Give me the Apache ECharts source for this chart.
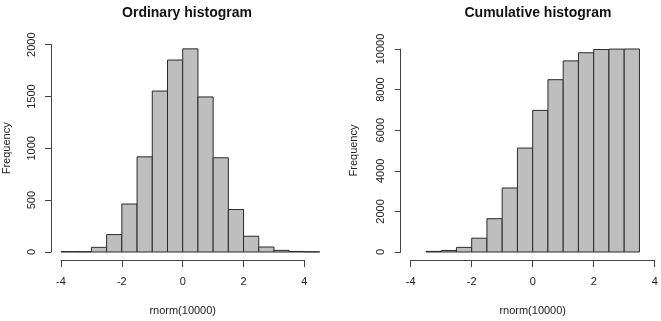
<!DOCTYPE html>
<html>
<head>
<meta charset="utf-8">
<script src="https://cdn.jsdelivr.net/npm/echarts@6/dist/echarts.min.js"></script>
<style>
html,body{margin:0;padding:0;background:#fff;}
#chart{width:661px;height:321px;}
</style>
</head>
<body>
<div id="chart"></div>
<script>
// ---- data ----
var binWidth = 0.5;
var ordinaryBinStarts = [-4, -3.5, -3, -2.5, -2, -1.5, -1, -0.5, 0, 0.5, 1, 1.5, 2, 2.5, 3, 3.5, 4];
var ordinaryCounts = [4, 3, 45, 168, 463, 918, 1553, 1852, 1960, 1496, 909, 410, 152, 48, 16, 5, 2];
var cumulativeBinStarts = [-3.5, -3, -2.5, -2, -1.5, -1, -0.5, 0, 0.5, 1, 1.5, 2, 2.5, 3];
var cumulativeCounts = [30, 75, 228, 680, 1640, 3154, 5120, 6975, 8488, 9415, 9815, 9975, 9995, 10000];
var titles = ['Ordinary histogram', 'Cumulative histogram'];
var xName = 'rnorm(10000)';
var yName = 'Frequency';

function toRows(starts, counts) {
  return starts.map(function (s, i) { return [s, s + binWidth, counts[i]]; });
}

var textColor = '#222';
var lineColor = '#444';
var font = 'Liberation Sans, Arial, Helvetica, sans-serif';

function renderBar(params, api) {
  var p0 = api.coord([api.value(0), api.value(2)]);
  var p1 = api.coord([api.value(1), 0]);
  return {
    type: 'rect',
    shape: { x: p0[0], y: p0[1], width: p1[0] - p0[0], height: p1[1] - p0[1] },
    style: { fill: '#bebebe', stroke: '#2a2a2a', lineWidth: 1 }
  };
}

function plain(v) { return String(v); }

function xAxisCfg(gridIndex) {
  return {
    gridIndex: gridIndex, type: 'value', min: -4, max: 4, interval: 2,
    offset: 8, splitLine: { show: false },
    axisLine: { show: true, onZero: false, lineStyle: { color: lineColor, width: 1 } },
    axisTick: { show: true, length: 7, lineStyle: { color: lineColor } },
    axisLabel: { color: textColor, fontSize: 11, fontFamily: font, margin: 16, formatter: plain },
    name: xName, nameLocation: 'middle', nameGap: 45,
    nameTextStyle: { color: textColor, fontSize: 11, fontFamily: font }
  };
}
function yAxisCfg(gridIndex, max, interval, gap) {
  return {
    gridIndex: gridIndex, type: 'value', min: 0, max: max, interval: interval,
    offset: 10, splitLine: { show: false },
    axisLine: { show: true, onZero: false, lineStyle: { color: lineColor, width: 1 } },
    axisTick: { show: true, length: 6, lineStyle: { color: lineColor } },
    axisLabel: { color: textColor, fontSize: 11, fontFamily: font, rotate: 90, margin: 14, formatter: plain },
    name: yName, nameLocation: 'middle', nameGap: gap,
    nameTextStyle: { color: textColor, fontSize: 11, fontFamily: font }
  };
}

var chart = echarts.init(document.getElementById('chart'), null, { renderer: 'canvas' });
chart.setOption({
  backgroundColor: '#ffffff',
  animation: false,
  title: [
    { text: titles[0], left: 182, top: 1, textAlign: 'center',
      textStyle: { fontSize: 14, fontWeight: 'bold', color: '#111', fontFamily: font } },
    { text: titles[1], left: 533, top: 1, textAlign: 'center',
      textStyle: { fontSize: 14, fontWeight: 'bold', color: '#111', fontFamily: font } }
  ],
  grid: [
    { left: 60.3, right: 356.6, top: 44.7, bottom: 67 },
    { left: 410.7, right: 6.3, top: 49, bottom: 67 }
  ],
  xAxis: [xAxisCfg(0), xAxisCfg(1)],
  yAxis: [yAxisCfg(0, 2000, 500, 39), yAxisCfg(1, 10000, 2000, 41)],
  series: [
    { type: 'custom', xAxisIndex: 0, yAxisIndex: 0, renderItem: renderBar,
      data: toRows(ordinaryBinStarts, ordinaryCounts), encode: { x: [0, 1], y: 2 }, clip: false },
    { type: 'custom', xAxisIndex: 1, yAxisIndex: 1, renderItem: renderBar,
      data: toRows(cumulativeBinStarts, cumulativeCounts), encode: { x: [0, 1], y: 2 }, clip: false }
  ]
});
</script>
</body>
</html>
